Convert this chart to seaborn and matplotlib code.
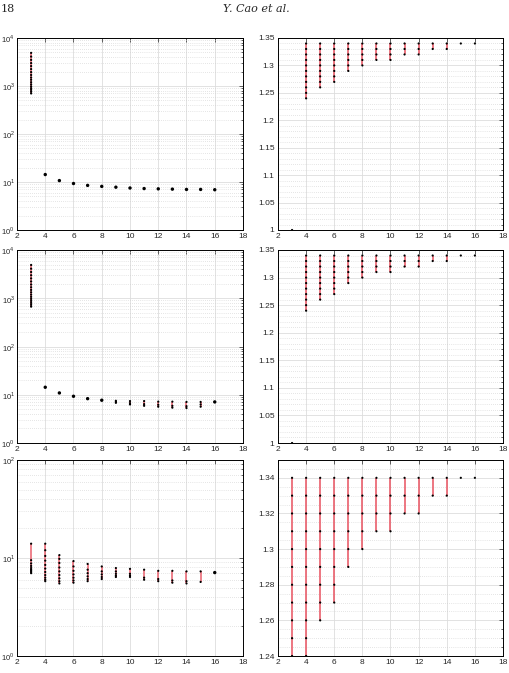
import matplotlib
matplotlib.use("Agg")
import matplotlib.pyplot as plt
from matplotlib.ticker import LogLocator, AutoMinorLocator, NullFormatter, FixedLocator, FixedFormatter
import seaborn as sns
import pandas as pd

# ------------------------
# Data
# ------------------------
# left column: x = 3..16, one list of values per x
xs_left = [3, 4, 5, 6, 7, 8, 9, 10, 11, 12, 13, 14, 15, 16]

vals_top_left = [
    [700, 760, 830, 900, 980, 1080, 1200, 1350, 1500, 1700, 1950, 2250, 2600, 3000, 3500, 4100, 4900],
    [14.3], [10.7], [9.3], [8.5], [8.1], [7.8], [7.5], [7.3], [7.2], [7.1], [7.0], [7.0], [6.9],
]

vals_mid_left = [
    [670, 730, 800, 880, 970, 1070, 1190, 1330, 1490, 1690, 1930, 2230, 2580, 3000, 3500, 4100, 4900],
    [14.3], [10.9], [9.3], [8.3], [7.7],
    [6.8, 7.1, 7.5], [6.3, 6.7, 7.4], [5.9, 6.4, 7.4], [5.65, 6.2, 7.2],
    [5.4, 5.9, 7.2], [5.3, 5.8, 7.1], [5.65, 6.3, 7.1], [7.1],
]

vals_bot_left = [
    [7.0, 7.2, 7.4, 7.6, 7.9, 8.3, 8.8, 9.5, 14.0],
    [5.8, 6.0, 6.3, 6.7, 7.2, 7.8, 8.5, 9.4, 10.5, 12.0, 14.0],
    [5.5, 5.8, 6.2, 6.7, 7.3, 8.0, 8.9, 9.8, 10.7],
    [5.6, 5.9, 6.3, 6.8, 7.4, 8.2, 9.3],
    [5.8, 6.1, 6.5, 7.0, 7.6, 8.7],
    [6.1, 6.4, 6.8, 7.3, 8.2],
    [6.4, 6.6, 6.9, 7.3, 7.9],
    [6.4, 6.6, 6.9, 7.75],
    [6.0, 6.3, 7.6],
    [5.8, 6.1, 7.4],
    [5.6, 5.9, 7.4],
    [5.5, 5.8, 7.3],
    [5.7, 7.3],
    [7.1],
]

# right column: ranges lo..hi, dots on the 0.01 levels inside each range
xs_right = [3, 4, 5, 6, 7, 8, 9, 10, 11, 12, 13, 14, 15, 16]
levels = [1.00, 1.23, 1.24, 1.25, 1.26, 1.27, 1.28, 1.29, 1.30, 1.31, 1.32, 1.33, 1.34]
lo_top_right = [1.00, 1.24, 1.26, 1.27, 1.29, 1.30, 1.31, 1.31, 1.32, 1.32, 1.33, 1.33, 1.34, 1.34]
hi_top_right = [1.00, 1.34, 1.34, 1.34, 1.34, 1.34, 1.34, 1.34, 1.34, 1.34, 1.34, 1.34, 1.34, 1.34]
lo_bot_right = [1.23, 1.23, 1.26, 1.27, 1.29, 1.30, 1.31, 1.31, 1.32, 1.32, 1.33, 1.33, 1.34, 1.34]
hi_bot_right = [1.34, 1.34, 1.34, 1.34, 1.34, 1.34, 1.34, 1.34, 1.34, 1.34, 1.34, 1.34, 1.34, 1.34]

xticks = [2, 4, 6, 8, 10, 12, 14, 16, 18]
red = "#ea5f6c"

# ------------------------
# Style
# ------------------------
sns.set_style("white")
plt.rcParams['font.family'] = ['Liberation Sans', 'DejaVu Sans']
plt.rcParams['mathtext.fontset'] = 'custom'
plt.rcParams['mathtext.rm'] = 'Liberation Sans'


def style_axes(ax):
    ax.set_axisbelow(True)
    ax.grid(which='major', color='#dddddd', lw=0.6, ls='-')
    ax.grid(which='minor', axis='y', color='#cccccc', lw=0.5, ls=(0, (1, 2)))
    ax.tick_params(which='both', direction='in', top=True, right=True,
                   labelsize=6, width=0.5, pad=2.5)
    ax.tick_params(which='major', length=3)
    ax.tick_params(which='minor', length=1.5)
    for s in ax.spines.values():
        s.set_linewidth(0.7)
        s.set_color('black')
    ax.set_xlim(2, 18)
    ax.set_xticks(xticks)
    ax.set_xticklabels([str(t) for t in xticks])


def clear_labels(ax):
    ax.set_xlabel("")
    ax.set_ylabel("")


def draw_lists(ax, xs, vals):
    rows = [(x, v, 6 if len(vl) == 1 else 2.5) for x, vl in zip(xs, vals) for v in vl]
    df = pd.DataFrame(rows, columns=["x", "y", "sz"])
    rng = df.groupby("x")["y"].agg(["min", "max"]).reset_index()
    rng = rng[rng["max"] > rng["min"]]
    ax.vlines(rng["x"], rng["min"], rng["max"], color=red, lw=1.1, zorder=2)
    sns.scatterplot(data=df, x="x", y="y", ax=ax, color="black", size="sz",
                    sizes=(2.5, 6), edgecolor="none", zorder=3, legend=False)
    clear_labels(ax)


def draw_ranges(ax, xs, lo, hi):
    rows = [(x, v) for x, a, b in zip(xs, lo, hi) for v in levels if a - 1e-9 <= v <= b + 1e-9]
    df = pd.DataFrame(rows, columns=["x", "y"])
    rng = pd.DataFrame({"x": xs, "lo": lo, "hi": hi})
    rng = rng[rng["hi"] > rng["lo"]]
    ax.vlines(rng["x"], rng["lo"], rng["hi"], color=red, lw=1.2, zorder=2)
    sns.scatterplot(data=df, x="x", y="y", ax=ax, color="black", s=2.5,
                    edgecolor="none", zorder=3, legend=False)
    clear_labels(ax)


def log_axis(ax, top_exp):
    ax.set_yscale('log')
    ax.set_ylim(1, 10 ** top_exp)
    ax.yaxis.set_major_locator(FixedLocator([10 ** k for k in range(top_exp + 1)]))
    ax.yaxis.set_major_formatter(FixedFormatter([r'$10^{%d}$' % k for k in range(top_exp + 1)]))
    ax.yaxis.set_minor_locator(LogLocator(base=10, subs=range(2, 10), numticks=20))
    ax.yaxis.set_minor_formatter(NullFormatter())
    ax.grid(which='minor', axis='y', color='#cccccc', lw=0.5, ls=(0, (1, 2)))
    ax.tick_params(axis='y', labelsize=5.5, pad=1.5)


# ------------------------
# Figure
# ------------------------
fig = plt.figure(figsize=(5.10, 6.73), dpi=100)
W, H = 510, 673


def add_ax(x0, y0, x1, y1):
    return fig.add_axes([x0 / W, 1 - y1 / H, (x1 - x0) / W, (y1 - y0) / H])


rows_px = [(38, 230), (250, 443), (460, 656)]
left_px = (17, 243)
right_px = (278, 503)

# top-left
ax = add_ax(left_px[0], rows_px[0][0], left_px[1], rows_px[0][1])
style_axes(ax)
draw_lists(ax, xs_left, vals_top_left)
log_axis(ax, 4)

# mid-left
ax = add_ax(left_px[0], rows_px[1][0], left_px[1], rows_px[1][1])
style_axes(ax)
draw_lists(ax, xs_left, vals_mid_left)
log_axis(ax, 4)

# bottom-left
ax = add_ax(left_px[0], rows_px[2][0], left_px[1], rows_px[2][1])
style_axes(ax)
draw_lists(ax, xs_left, vals_bot_left)
log_axis(ax, 2)

# top-right and mid-right
for r in range(2):
    ax = add_ax(right_px[0], rows_px[r][0], right_px[1], rows_px[r][1])
    style_axes(ax)
    draw_ranges(ax, xs_right, lo_top_right, hi_top_right)
    ax.set_ylim(1, 1.35)
    ax.set_yticks([1, 1.05, 1.1, 1.15, 1.2, 1.25, 1.3, 1.35])
    ax.set_yticklabels(['1', '1.05', '1.1', '1.15', '1.2', '1.25', '1.3', '1.35'])
    ax.yaxis.set_minor_locator(AutoMinorLocator(5))

# bottom-right
ax = add_ax(right_px[0], rows_px[2][0], right_px[1], rows_px[2][1])
style_axes(ax)
draw_ranges(ax, xs_right, lo_bot_right, hi_bot_right)
ax.set_ylim(1.24, 1.35)
ax.set_yticks([1.24, 1.26, 1.28, 1.3, 1.32, 1.34])
ax.set_yticklabels(['1.24', '1.26', '1.28', '1.3', '1.32', '1.34'])
ax.yaxis.set_minor_locator(AutoMinorLocator(4))

# page header
fig.text(1 / W, 1 - 9 / H, "18", fontsize=8, family='DejaVu Serif', va='center', ha='left')
fig.text(256 / W, 1 - 9 / H, "Y. Cao et al.", fontsize=8, family='DejaVu Serif',
         style='italic', va='center', ha='center')

fig.savefig("out.png", dpi=100)
